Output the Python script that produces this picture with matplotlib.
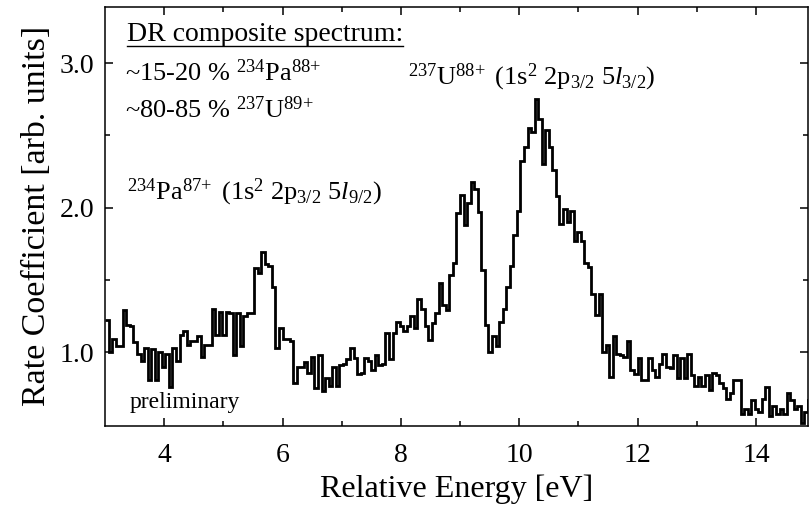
import numpy as np
import matplotlib
matplotlib.use('Agg')
import matplotlib.pyplot as plt
from matplotlib.lines import Line2D

plt.rcParams['font.family'] = ['Liberation Serif', 'DejaVu Serif']
plt.rcParams['mathtext.fontset'] = 'custom'
plt.rcParams['mathtext.rm'] = 'Liberation Serif'
plt.rcParams['mathtext.it'] = 'Liberation Serif:italic'

# DR spectrum, bins of 0.06 eV starting at 3.0 eV
e_start = 3.0
bin_width = 0.06
rate = [
    1.22, 1.00, 1.09, 1.04, 1.04, 1.29, 1.19, 1.18, 1.07, 0.99,
    0.94, 1.03, 0.81, 1.02, 0.81, 1.00, 0.90, 0.99, 0.76, 1.03,
    0.94, 1.12, 1.15, 1.05, 1.08, 1.08, 1.11, 0.97, 1.05, 1.05,
    1.30, 1.12, 1.28, 1.12, 1.28, 1.27, 0.98, 1.27, 1.04, 1.25,
    1.27, 1.27, 1.58, 1.55, 1.69, 1.61, 1.60, 1.45, 1.03, 1.17,
    1.09, 1.09, 1.075, 0.785, 0.90, 0.90, 0.935, 0.854, 0.97, 0.75,
    0.98, 0.73, 0.82, 0.77, 0.90, 0.77, 0.91, 0.92, 0.95, 1.03,
    0.96, 0.85, 0.855, 0.96, 0.94, 0.88, 0.98, 0.91, 0.92, 1.13,
    0.95, 1.13, 1.21, 1.18, 1.15, 1.18, 1.25, 1.17, 1.37, 1.30,
    1.18, 1.085, 1.20, 1.27, 1.48, 1.33, 1.29, 1.535, 1.62, 1.96,
    2.09, 1.88, 2.03, 2.18, 2.13, 1.97, 1.57, 1.19, 1.00, 1.11,
    1.04, 1.21, 1.30, 1.45, 1.60, 1.81, 1.98, 2.32, 2.42, 2.55,
    2.52, 2.75, 2.61, 2.30, 2.54, 2.42, 2.26, 2.08, 1.89, 1.99,
    1.90, 1.98, 1.77, 1.83, 1.77, 1.62, 1.59, 1.40, 1.26, 1.40,
    1.00, 1.05, 0.83, 1.11, 0.99, 0.98, 0.97, 1.08, 0.88, 0.85,
    0.96, 0.81, 0.81, 0.96, 0.88, 0.83, 0.92, 0.99, 0.90, 0.89,
    0.98, 0.82, 0.96, 0.82, 0.99, 0.84, 0.77, 0.83, 0.77, 0.84,
    0.74, 0.86, 0.84, 0.79, 0.75, 0.68, 0.72, 0.81, 0.81, 0.57,
    0.61, 0.57, 0.67, 0.61, 0.59, 0.68, 0.76, 0.56, 0.63, 0.57,
    0.61, 0.57, 0.72, 0.67, 0.61, 0.63, 0.51, 0.59, 0.67,
]
edges = e_start + bin_width * np.arange(len(rate) + 1)

fig = plt.figure(figsize=(8.09, 5.07), dpi=100)
ax = fig.add_axes([105 / 809, 1 - 426 / 507, 703 / 809, 419.3 / 507])

ax.stairs(rate, edges, color='black', linewidth=2.0, baseline=None)

ax.set_xlim(3.0, 14.88)
ax.set_ylim(0.49, 3.39)
ax.set_xticks([4, 6, 8, 10, 12, 14])
ax.set_xticks([5, 7, 9, 11, 13], minor=True)
ax.set_yticks([1.0, 2.0, 3.0])
ax.set_yticklabels(['1.0', '2.0', '3.0'])
ax.set_yticks([1.5, 2.5], minor=True)
ax.tick_params(which='both', direction='in', top=True, right=True, width=1.1)
ax.tick_params(which='major', length=6, labelsize=20, pad=8)
ax.tick_params(axis='x', which='major', pad=12)
ax.tick_params(which='minor', length=3.5)
for s in ax.spines.values():
    s.set_linewidth(1.1)

ax.set_xlabel('Relative Energy [eV]', fontsize=23, labelpad=5)
ax.set_ylabel('Rate Coefficient [arb. units]', fontsize=24.5, labelpad=5)

fs = 19
title = ax.text(3.37, 3.155, 'DR composite spectrum:', fontsize=20, va='baseline')
ax.text(3.34, 2.88, r'~15-20 % $^{234}$Pa$^{88\!+}$', fontsize=fs, va='baseline')
ax.text(3.34, 2.62, r'~80-85 % $^{237}$U$^{89\!+}$', fontsize=fs, va='baseline')
ax.text(3.37, 2.06, r'$^{234}$Pa$^{87\!+}$ (1s$^2$ 2p$_{3/2}$ 5$l_{9/2}$)',
        fontsize=fs, va='baseline')
ax.text(8.12, 2.855, r'$^{237}$U$^{88\!+}$ (1s$^2$ 2p$_{3/2}$ 5$l_{3/2}$)',
        fontsize=fs, va='baseline')
ax.text(3.42, 0.615, 'preliminary', fontsize=17, va='baseline')

# underline the heading
fig.canvas.draw()
bb = title.get_window_extent().transformed(fig.transFigure.inverted())
fig.add_artist(Line2D([bb.x0, bb.x1], [bb.y0 + 0.002, bb.y0 + 0.002],
                      color='black', linewidth=1.0))

fig.savefig('out.png', dpi=100)
